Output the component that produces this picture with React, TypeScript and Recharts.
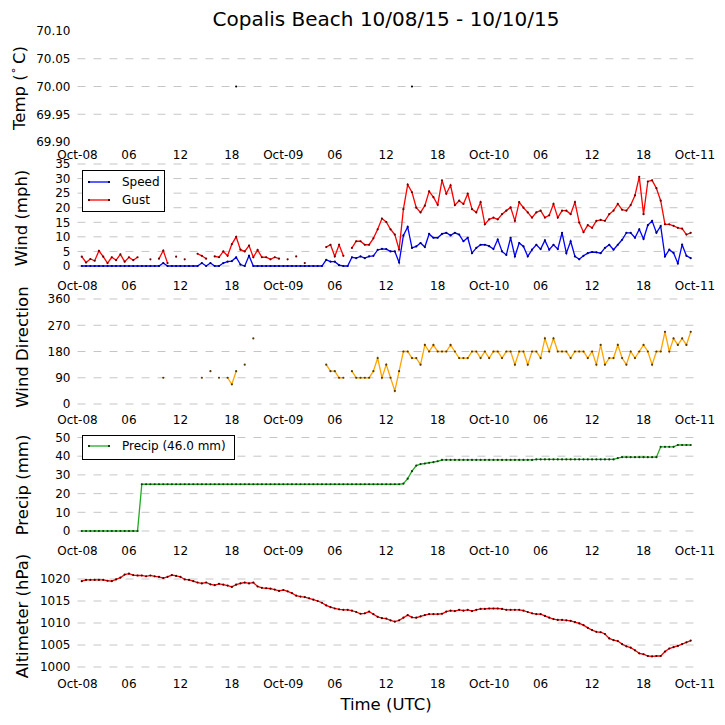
import React from "react";
import { ComposedChart, Line, XAxis, YAxis, CartesianGrid, Legend } from "recharts";

const FONT = "'DejaVu Sans', sans-serif";

// hours since Oct-08 00:00 UTC
const TICK_HOURS = [0, 6, 12, 18, 24, 30, 36, 42, 48, 54, 60, 66, 72];
const TICK_LABELS = ["Oct-08", "06", "12", "18", "Oct-09", "06", "12", "18", "Oct-10", "06", "12", "18", "Oct-11"];

// half-hourly samples, first at 00:30 Oct-08, one row = 6 hours
const SPEED = [
  0, 0, 0, 0, 0, 0, 0, 0, 0, 0, 0, 0,
  0, 0, 0, 0, 0, 0, 0, 1.0, 0, 0, 0, 0,
  0, 0, 0, 0, 1.0, 0, 1.0, 0, 0, 1.0, 1.5, 1.7,
  3.0, 0.5, 0, 3.5, 0, 0, 0, 0, 0, 0, 0, 0,
  0, 0, 0, 0, 0, 0, 0, 0, 0, 2.1, 1.5, 1.5,
  0.3, 0, 0, 3.0, 2.7, 3.3, 2.7, 3.3, 3.5, 5.5, 5.9, 5.8,
  5.0, 5.0, 1.2, 10.5, 13.4, 6.2, 6.7, 7.9, 6.5, 11.0, 9.7, 9.7,
  11.0, 11.4, 10.5, 11.4, 10.8, 8.5, 9.7, 4.4, 6.2, 7.3, 7.3, 6.8,
  5.8, 9.1, 5.0, 3.8, 9.7, 3.3, 7.9, 6.7, 3.3, 5.6, 7.3, 5.8,
  8.8, 5.6, 7.3, 5.8, 11.4, 4.4, 8.5, 3.3, 2.3, 3.5, 4.4, 4.8,
  4.7, 4.4, 6.2, 7.3, 5.6, 7.3, 9.0, 11.4, 11.4, 9.7, 12.6, 9.3,
  14.0, 15.5, 11.4, 13.7, 3.3, 5.6, 4.5, 0.9, 7.3, 3.5, 2.7, null,
];

const GUST = [
  3.2, 1.2, 2.4, 1.8, 5.2, 3.2, 1.0, 3.0, 2.0, 4.0, 1.5, 3.0,
  2.0, 3.0, null, null, 2.3, null, 2.5, 5.3, 1.0, null, 3.2, null,
  2.3, null, null, 4.2, 3.5, 2.5, null, 3.3, 3.0, 5.0, 3.5, 7.5,
  10.0, 5.6, 5.0, 7.0, 3.0, 5.5, 3.0, 3.0, 2.3, 3.0, 2.5, null,
  2.3, null, 3.3, null, 1.0, null, null, null, null, 6.5, 7.3, 3.3,
  7.3, 3.5, null, 6.2, 8.5, 8.5, 7.3, 7.3, 9.5, 12.6, 16.3, 15.1,
  12.6, 10.8, 5.6, 19.5, 27.9, 25.3, 20.0, 18.4, 20.7, 25.6, 23.6, 21.0,
  29.4, 24.8, 27.7, 20.9, 22.4, 21.3, 24.8, 19.5, 18.4, 21.9, 14.3, 16.0,
  16.6, 16.0, 17.8, 19.0, 20.1, 15.5, 21.9, 20.0, 18.4, 16.6, 18.4, 19.0,
  16.6, 17.4, 21.3, 16.6, 19.0, 19.0, 17.8, 21.9, 14.9, 11.6, 14.0, 13.1,
  15.5, 15.8, 15.5, 17.8, 19.0, 21.3, 19.3, 19.0, 20.9, 24.2, 30.6, 17.8,
  29.0, 29.4, 26.7, 22.4, 14.3, 14.3, 13.8, 13.1, 12.8, 10.8, 11.4, null,
];

const DIR = [
  null, null, null, null, null, null, null, null, null, null, null, null,
  null, null, null, null, null, null, null, 90, null, null, null, null,
  null, null, null, null, 90, null, 112.5, null, 90, null, 90, 67.5,
  112.5, null, 135, null, 225, null, null, null, null, null, null, null,
  null, null, null, null, null, null, null, null, null, 135, 112.5, 112.5,
  90, 90, null, 112.5, 90, 90, 90, 90, 112.5, 157.5, 90, 135,
  90, 45, 112.5, 180, 180, 157.5, 157.5, 135, 202.5, 180, 202.5, 180,
  180, 180, 202.5, 180, 157.5, 157.5, 157.5, 180, 180, 157.5, 180, 157.5,
  180, 180, 157.5, 180, 180, 135, 180, 180, 135, 180, 180, 157.5,
  225, 180, 225, 180, 180, 180, 157.5, 180, 180, 180, 157.5, 180,
  135, 202.5, 135, 157.5, 157.5, 202.5, 157.5, 135, 180, 157.5, 180, 202.5,
  180, 135, 180, 180, 247.5, 180, 225, 202.5, 225, 202.5, 247.5, null,
];

const PRECIP = [
  0, 0, 0, 0, 0, 0, 0, 0, 0, 0, 0, 0,
  0, 0, 25, 25, 25, 25, 25, 25, 25, 25, 25, 25,
  25, 25, 25, 25, 25, 25, 25, 25, 25, 25, 25, 25,
  25, 25, 25, 25, 25, 25, 25, 25, 25, 25, 25, 25,
  25, 25, 25, 25, 25, 25, 25, 25, 25, 25, 25, 25,
  25, 25, 25, 25, 25, 25, 25, 25, 25, 25, 25, 25,
  25, 25, 25, 25.3, 28, 32, 35, 35.8, 36.1, 36.5, 36.8, 37.3,
  38, 38, 38, 38, 38, 38, 38, 38, 38, 38, 38, 38,
  38, 38, 38, 38, 38, 38, 38, 38, 38, 38, 38.3, 38.3,
  38.3, 38.3, 38.3, 38.3, 38.3, 38.3, 38.3, 38.3, 38.3, 38.3, 38.3, 38.3,
  38.3, 38.3, 38.3, 38.3, 38.3, 39, 39.5, 39.5, 39.5, 39.5, 39.5, 39.5,
  39.5, 39.5, 39.5, 45, 45, 45, 45, 46, 46, 46, 46, null,
];

const ALT = [
  1019.5, 1019.8, 1019.8, 1019.8, 1019.8, 1019.8, 1019.6, 1019.5, 1019.9, 1020.3, 1021.0, 1021.2,
  1020.9, 1020.8, 1020.8, 1020.6, 1020.8, 1020.6, 1020.5, 1020.2, 1020.5, 1020.9, 1020.7, 1020.5,
  1019.9, 1019.8, 1019.5, 1019.2, 1019.0, 1019.2, 1018.8, 1018.6, 1018.9, 1018.7, 1018.5, 1018.2,
  1018.7, 1019.0, 1019.2, 1019.0, 1019.2, 1018.3, 1018.0, 1017.9, 1017.8, 1017.6, 1017.3, 1017.5,
  1017.2, 1016.8, 1016.2, 1016.0, 1015.9, 1015.6, 1015.3, 1015.0, 1014.6, 1014.0, 1013.6, 1013.3,
  1013.1, 1013.0, 1013.0, 1012.8, 1012.5, 1012.1, 1012.2, 1012.6, 1012.0, 1011.4, 1011.1, 1011.0,
  1010.6, 1010.3, 1010.6, 1011.2, 1011.8, 1011.3, 1011.2, 1011.5, 1011.8, 1012.0, 1012.0, 1012.0,
  1012.1, 1012.6, 1012.8, 1012.7, 1013.0, 1012.8, 1013.0, 1012.7, 1013.0, 1013.2, 1013.2, 1013.3,
  1013.3, 1013.3, 1013.2, 1013.0, 1013.0, 1013.0, 1013.0, 1012.8, 1012.5, 1012.2, 1012.0, 1012.0,
  1011.6, 1011.2, 1010.9, 1010.7, 1010.7, 1010.6, 1010.5, 1010.2, 1009.9, 1009.5, 1008.9, 1008.4,
  1008.0, 1007.9, 1007.5, 1006.5, 1006.1, 1005.9, 1005.2, 1004.7, 1004.4, 1003.8, 1003.1, 1002.9,
  1002.5, 1002.4, 1002.5, 1002.5, 1003.5, 1004.2, 1004.5, 1004.8, 1005.2, 1005.6, 1006.0, null,
];

const TEMP_HOURS = [18.5, 39];
const TEMP_VALUES = [70.0, 70.0];

const HOURS = SPEED.map((_, i) => 0.5 + i * 0.5);
const rows = HOURS.map((h, i) => {
  const k = TEMP_HOURS.indexOf(h);
  return {
    h,
    speed: SPEED[i],
    gust: GUST[i],
    dir: DIR[i],
    precip: PRECIP[i],
    alt: ALT[i],
    temp: k >= 0 ? TEMP_VALUES[k] : null,
  };
});
const precipTotal = Math.max(...(PRECIP.filter((v) => v != null) as number[]));

const DOTS: Record<string, string> = {
  speed: "#00006e",
  gust: "#6e0000",
  dir: "#553a00",
  precip: "#0a400a",
  alt: "#4a0000",
  temp: "#000000",
};

const TICK = { fontSize: 12, fontFamily: FONT, fill: "#000" };

// legend rows keep the order the series are listed in
const legendBox = (width: number, height: number, rowY: number[], order: string[]) => (props: any) => {
  const items = [...(props.payload || [])].sort(
    (a: any, b: any) => order.indexOf(a.dataKey) - order.indexOf(b.dataKey)
  );
  return (
    <div
      style={{
        width,
        height,
        boxSizing: "border-box",
        border: "1px solid #000",
        background: "#fff",
        position: "relative",
        fontFamily: FONT,
        fontSize: 12,
        color: "#000",
      }}
    >
      {items.map((item: any, i: number) => (
        <div
          key={item.value}
          style={{ position: "absolute", left: 0, top: rowY[i] - 7, height: 14, display: "flex", alignItems: "center", whiteSpace: "nowrap" }}
        >
          <svg width={39} height={14} style={{ display: "block" }}>
            <line x1={6} x2={26} y1={7} y2={7} stroke={item.color} strokeWidth={1.3} />
            <rect x={5} y={6} width={2} height={2} fill={DOTS[item.dataKey]} />
            <rect x={25} y={6} width={2} height={2} fill={DOTS[item.dataKey]} />
          </svg>
          <span>{item.value}</span>
        </div>
      ))}
    </div>
  );
};

const series = (key: string, name: string, color: string) => (
  <Line
    key={key}
    dataKey={key}
    name={name}
    type="linear"
    stroke={color}
    strokeWidth={1.3}
    dot={{ r: 1.1, fill: DOTS[key], stroke: "none", strokeWidth: 0 }}
    activeDot={false}
    isAnimationActive={false}
  />
);

type PanelProps = {
  top: number;
  bottom: number;
  domain: [number, number];
  ticks: number[];
  grid: number[];
  gap: number;
  fmt?: (v: number) => string;
  children: React.ReactNode;
};

function Panel({ top, bottom, domain, ticks, grid, gap, fmt, children }: PanelProps) {
  return (
    <div style={{ position: "absolute", left: 0, top: 0 }}>
      <ComposedChart width={725} height={bottom + 35} data={rows} margin={{ top, right: 30, bottom: 5, left: 0 }}>
        <CartesianGrid vertical={false} horizontalValues={grid} stroke="#c6c6c6" strokeDasharray="8 8" />
        <XAxis
          dataKey="h"
          type="number"
          domain={[0, 72]}
          ticks={TICK_HOURS}
          interval={0}
          tickFormatter={(v) => TICK_LABELS[TICK_HOURS.indexOf(v)]}
          axisLine={false}
          tickLine={false}
          tickSize={0}
          tickMargin={gap}
          height={30}
          tick={TICK}
        />
        <YAxis
          type="number"
          domain={domain}
          ticks={ticks}
          interval={0}
          tickFormatter={fmt}
          width={77.5}
          axisLine={false}
          tickLine={false}
          tickSize={0}
          tickMargin={7}
          tick={TICK}
        />
        {children}
      </ComposedChart>
    </div>
  );
}

const Y_LABELS = [
  { x: 19, y: 88, text: "Temp (" },
  { x: 21.5, y: 218, text: "Wind (mph)" },
  { x: 22, y: 347, text: "Wind Direction" },
  { x: 22.5, y: 485, text: "Precip (mm)" },
  { x: 22, y: 616, text: "Altimeter (hPa)" },
];

export default function App() {
  return (
    <div style={{ position: "absolute", left: 0, top: 0, width: 725, height: 725, background: "#fff", fontFamily: FONT }}>
      <Panel top={31} bottom={142} domain={[69.9, 70.1]} ticks={[69.9, 69.95, 70, 70.05, 70.1]} grid={[69.95, 70, 70.05]} gap={8} fmt={(v) => v.toFixed(2)}>
        {series("temp", "Temp", "#000")}
      </Panel>
      <Panel top={164} bottom={266} domain={[0, 35]} ticks={[0, 5, 10, 15, 20, 25, 30, 35]} grid={[0, 5, 10, 15, 20, 25, 30, 35]} gap={15.6}>
        {series("speed", "Speed", "#0000ff")}
        {series("gust", "Gust", "#ff0000")}
        <Legend
          layout="horizontal"
          verticalAlign="middle"
          align="center"
          wrapperStyle={{ left: 82, top: 170, width: 83, height: 42 }}
          content={legendBox(83, 42, [10.7, 29], ["speed", "gust"])}
        />
      </Panel>
      <Panel top={299} bottom={404} domain={[0, 360]} ticks={[0, 90, 180, 270, 360]} grid={[0, 90, 180, 270, 360]} gap={11}>
        {series("dir", "Direction", "#ffa500")}
      </Panel>
      <Panel top={437.5} bottom={531} domain={[0, 50]} ticks={[0, 10, 20, 30, 40, 50]} grid={[0, 10, 20, 30, 40, 50]} gap={15.9}>
        {series("precip", `Precip (${precipTotal.toFixed(1)} mm)`, "#22aa22")}
        <Legend
          layout="horizontal"
          verticalAlign="middle"
          align="center"
          wrapperStyle={{ left: 82, top: 435, width: 153, height: 25 }}
          content={legendBox(153, 25, [10], ["precip"])}
        />
      </Panel>
      <Panel top={570.2} bottom={667} domain={[1000, 1022]} ticks={[1000, 1005, 1010, 1015, 1020]} grid={[1000, 1005, 1010, 1015, 1020]} gap={12.2}>
        {series("alt", "Altimeter", "#ff0000")}
      </Panel>
      <svg width={725} height={725} style={{ position: "absolute", left: 0, top: 0, pointerEvents: "none" }}>
        <text x={386} y={26} textAnchor="middle" fontSize={20} fontFamily={FONT} fill="#000">
          Copalis Beach 10/08/15 - 10/10/15
        </text>
        {Y_LABELS.map((l, i) => (
          <text
            key={l.text}
            transform={`translate(${l.x},${l.y}) rotate(-90)`}
            textAnchor="middle"
            dominantBaseline="central"
            fontSize={16.5}
            fontFamily={FONT}
            fill="#000"
          >
            {l.text}
            {i === 0 && (
              <>
                <tspan dy={-6} fontSize={11}>∘</tspan>
                <tspan dy={6}>{"\u2009C)"}</tspan>
              </>
            )}
          </text>
        ))}
        <text x={386} y={710} textAnchor="middle" fontSize={16.5} fontFamily={FONT} fill="#000">
          Time (UTC)
        </text>
      </svg>
    </div>
  );
}
